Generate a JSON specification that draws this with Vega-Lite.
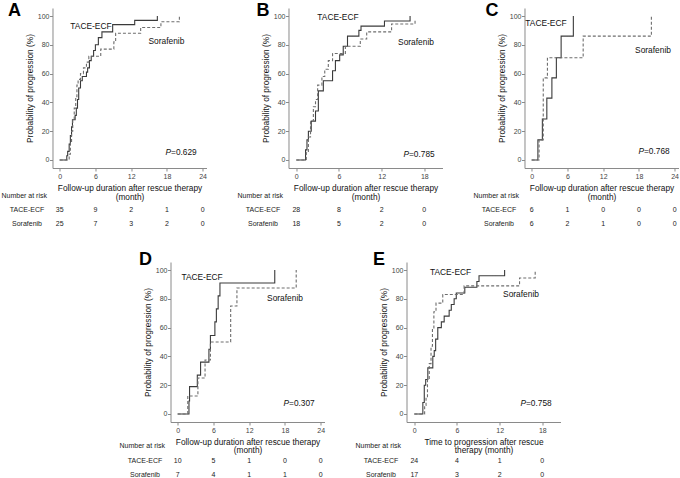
{
"$schema": "https://vega.github.io/schema/vega-lite/v6.json",
"padding": {"left": 1, "top": 2, "right": 0, "bottom": 0},
"datasets": {
"km": [
{"panel":"A","group":"TACE-ECF","t":0,"p":0},{"panel":"A","group":"TACE-ECF","t":1.2,"p":3},{"panel":"A","group":"TACE-ECF","t":1.35,"p":6},{"panel":"A","group":"TACE-ECF","t":1.6,"p":11},{"panel":"A","group":"TACE-ECF","t":1.8,"p":17},{"panel":"A","group":"TACE-ECF","t":2.0,"p":23},{"panel":"A","group":"TACE-ECF","t":2.15,"p":28},{"panel":"A","group":"TACE-ECF","t":2.6,"p":31},{"panel":"A","group":"TACE-ECF","t":2.8,"p":36},{"panel":"A","group":"TACE-ECF","t":3.0,"p":42},{"panel":"A","group":"TACE-ECF","t":3.2,"p":50},{"panel":"A","group":"TACE-ECF","t":3.5,"p":55},{"panel":"A","group":"TACE-ECF","t":3.8,"p":58},{"panel":"A","group":"TACE-ECF","t":4.5,"p":61},{"panel":"A","group":"TACE-ECF","t":4.7,"p":64},{"panel":"A","group":"TACE-ECF","t":5.0,"p":69},{"panel":"A","group":"TACE-ECF","t":5.3,"p":72},{"panel":"A","group":"TACE-ECF","t":5.7,"p":76},{"panel":"A","group":"TACE-ECF","t":6.0,"p":80},{"panel":"A","group":"TACE-ECF","t":6.5,"p":85},{"panel":"A","group":"TACE-ECF","t":7.1,"p":89},{"panel":"A","group":"TACE-ECF","t":8.9,"p":94},{"panel":"A","group":"TACE-ECF","t":12.6,"p":97},{"panel":"A","group":"TACE-ECF","t":16.4,"p":100},
{"panel":"A","group":"Sorafenib","t":0,"p":0},{"panel":"A","group":"Sorafenib","t":1.6,"p":4},{"panel":"A","group":"Sorafenib","t":1.8,"p":12},{"panel":"A","group":"Sorafenib","t":2.0,"p":20},{"panel":"A","group":"Sorafenib","t":2.2,"p":28},{"panel":"A","group":"Sorafenib","t":2.45,"p":36},{"panel":"A","group":"Sorafenib","t":2.7,"p":44},{"panel":"A","group":"Sorafenib","t":2.9,"p":52},{"panel":"A","group":"Sorafenib","t":3.1,"p":56},{"panel":"A","group":"Sorafenib","t":3.5,"p":60},{"panel":"A","group":"Sorafenib","t":4.0,"p":64},{"panel":"A","group":"Sorafenib","t":4.5,"p":68},{"panel":"A","group":"Sorafenib","t":4.9,"p":72},{"panel":"A","group":"Sorafenib","t":6.9,"p":77},{"panel":"A","group":"Sorafenib","t":9.1,"p":82},{"panel":"A","group":"Sorafenib","t":9.4,"p":88},{"panel":"A","group":"Sorafenib","t":13.6,"p":92},{"panel":"A","group":"Sorafenib","t":17.0,"p":96},{"panel":"A","group":"Sorafenib","t":20.1,"p":100},
{"panel":"B","group":"TACE-ECF","t":0,"p":0},{"panel":"B","group":"TACE-ECF","t":1.3,"p":7},{"panel":"B","group":"TACE-ECF","t":1.5,"p":14},{"panel":"B","group":"TACE-ECF","t":1.7,"p":20},{"panel":"B","group":"TACE-ECF","t":2.1,"p":27},{"panel":"B","group":"TACE-ECF","t":2.7,"p":34},{"panel":"B","group":"TACE-ECF","t":3.1,"p":48},{"panel":"B","group":"TACE-ECF","t":3.8,"p":55},{"panel":"B","group":"TACE-ECF","t":5.1,"p":62},{"panel":"B","group":"TACE-ECF","t":5.5,"p":69},{"panel":"B","group":"TACE-ECF","t":6.1,"p":73},{"panel":"B","group":"TACE-ECF","t":6.6,"p":79},{"panel":"B","group":"TACE-ECF","t":7.2,"p":86},{"panel":"B","group":"TACE-ECF","t":8.8,"p":90},{"panel":"B","group":"TACE-ECF","t":9.1,"p":93},{"panel":"B","group":"TACE-ECF","t":12.4,"p":96.5},{"panel":"B","group":"TACE-ECF","t":16.0,"p":100},
{"panel":"B","group":"Sorafenib","t":0,"p":0},{"panel":"B","group":"Sorafenib","t":1.4,"p":5},{"panel":"B","group":"Sorafenib","t":1.7,"p":16},{"panel":"B","group":"Sorafenib","t":2.0,"p":27},{"panel":"B","group":"Sorafenib","t":2.4,"p":37},{"panel":"B","group":"Sorafenib","t":2.7,"p":42},{"panel":"B","group":"Sorafenib","t":3.0,"p":52},{"panel":"B","group":"Sorafenib","t":3.6,"p":58},{"panel":"B","group":"Sorafenib","t":4.0,"p":63},{"panel":"B","group":"Sorafenib","t":4.5,"p":69},{"panel":"B","group":"Sorafenib","t":5.1,"p":74},{"panel":"B","group":"Sorafenib","t":6.9,"p":79},{"panel":"B","group":"Sorafenib","t":9.0,"p":84},{"panel":"B","group":"Sorafenib","t":9.9,"p":89},{"panel":"B","group":"Sorafenib","t":13.4,"p":94.5},{"panel":"B","group":"Sorafenib","t":16.7,"p":98},
{"panel":"C","group":"TACE-ECF","t":0,"p":0},{"panel":"C","group":"TACE-ECF","t":1.05,"p":14},{"panel":"C","group":"TACE-ECF","t":1.8,"p":28.5},{"panel":"C","group":"TACE-ECF","t":2.55,"p":43},{"panel":"C","group":"TACE-ECF","t":3.4,"p":57},{"panel":"C","group":"TACE-ECF","t":4.15,"p":71},{"panel":"C","group":"TACE-ECF","t":4.95,"p":86},{"panel":"C","group":"TACE-ECF","t":7.0,"p":100},
{"panel":"C","group":"Sorafenib","t":0,"p":0},{"panel":"C","group":"Sorafenib","t":1.25,"p":14},{"panel":"C","group":"Sorafenib","t":1.95,"p":57},{"panel":"C","group":"Sorafenib","t":2.65,"p":71},{"panel":"C","group":"Sorafenib","t":8.65,"p":86},{"panel":"C","group":"Sorafenib","t":20.1,"p":100},
{"panel":"D","group":"TACE-ECF","t":0,"p":0},{"panel":"D","group":"TACE-ECF","t":1.9,"p":9},{"panel":"D","group":"TACE-ECF","t":2.0,"p":19},{"panel":"D","group":"TACE-ECF","t":3.3,"p":27},{"panel":"D","group":"TACE-ECF","t":3.85,"p":36},{"panel":"D","group":"TACE-ECF","t":5.25,"p":45},{"panel":"D","group":"TACE-ECF","t":5.5,"p":54.5},{"panel":"D","group":"TACE-ECF","t":6.25,"p":64},{"panel":"D","group":"TACE-ECF","t":6.5,"p":73},{"panel":"D","group":"TACE-ECF","t":6.8,"p":82},{"panel":"D","group":"TACE-ECF","t":7.1,"p":91},{"panel":"D","group":"TACE-ECF","t":16.3,"p":100},
{"panel":"D","group":"Sorafenib","t":0,"p":0},{"panel":"D","group":"Sorafenib","t":1.7,"p":12.5},{"panel":"D","group":"Sorafenib","t":3.4,"p":25},{"panel":"D","group":"Sorafenib","t":4.6,"p":37.5},{"panel":"D","group":"Sorafenib","t":5.5,"p":50},{"panel":"D","group":"Sorafenib","t":8.9,"p":75},{"panel":"D","group":"Sorafenib","t":9.95,"p":87.5},{"panel":"D","group":"Sorafenib","t":19.9,"p":100},
{"panel":"E","group":"TACE-ECF","t":0,"p":0},{"panel":"E","group":"TACE-ECF","t":1.2,"p":8},{"panel":"E","group":"TACE-ECF","t":1.4,"p":20},{"panel":"E","group":"TACE-ECF","t":1.6,"p":24},{"panel":"E","group":"TACE-ECF","t":1.9,"p":32},{"panel":"E","group":"TACE-ECF","t":2.6,"p":40},{"panel":"E","group":"TACE-ECF","t":2.8,"p":44},{"panel":"E","group":"TACE-ECF","t":3.0,"p":52},{"panel":"E","group":"TACE-ECF","t":3.3,"p":60},{"panel":"E","group":"TACE-ECF","t":3.8,"p":64},{"panel":"E","group":"TACE-ECF","t":4.2,"p":68},{"panel":"E","group":"TACE-ECF","t":4.9,"p":72},{"panel":"E","group":"TACE-ECF","t":5.2,"p":76},{"panel":"E","group":"TACE-ECF","t":5.6,"p":80},{"panel":"E","group":"TACE-ECF","t":5.9,"p":84},{"panel":"E","group":"TACE-ECF","t":7.1,"p":88},{"panel":"E","group":"TACE-ECF","t":8.8,"p":92},{"panel":"E","group":"TACE-ECF","t":9.1,"p":96},{"panel":"E","group":"TACE-ECF","t":12.7,"p":100},
{"panel":"E","group":"Sorafenib","t":0,"p":0},{"panel":"E","group":"Sorafenib","t":1.45,"p":6},{"panel":"E","group":"Sorafenib","t":1.65,"p":12},{"panel":"E","group":"Sorafenib","t":1.85,"p":24},{"panel":"E","group":"Sorafenib","t":2.1,"p":35},{"panel":"E","group":"Sorafenib","t":2.35,"p":47},{"panel":"E","group":"Sorafenib","t":2.55,"p":59},{"panel":"E","group":"Sorafenib","t":2.75,"p":71},{"panel":"E","group":"Sorafenib","t":3.05,"p":77},{"panel":"E","group":"Sorafenib","t":4.0,"p":83},{"panel":"E","group":"Sorafenib","t":7.0,"p":89},{"panel":"E","group":"Sorafenib","t":14.8,"p":94.5},{"panel":"E","group":"Sorafenib","t":17.0,"p":100}
],
"risk": [
{"panel":"A","group":"TACE-ECF","t":0,"n":35},{"panel":"A","group":"TACE-ECF","t":6,"n":9},{"panel":"A","group":"TACE-ECF","t":12,"n":2},{"panel":"A","group":"TACE-ECF","t":18,"n":1},{"panel":"A","group":"TACE-ECF","t":24,"n":0},
{"panel":"A","group":"Sorafenib","t":0,"n":25},{"panel":"A","group":"Sorafenib","t":6,"n":7},{"panel":"A","group":"Sorafenib","t":12,"n":3},{"panel":"A","group":"Sorafenib","t":18,"n":2},{"panel":"A","group":"Sorafenib","t":24,"n":0},
{"panel":"B","group":"TACE-ECF","t":0,"n":28},{"panel":"B","group":"TACE-ECF","t":6,"n":8},{"panel":"B","group":"TACE-ECF","t":12,"n":2},{"panel":"B","group":"TACE-ECF","t":18,"n":0},
{"panel":"B","group":"Sorafenib","t":0,"n":18},{"panel":"B","group":"Sorafenib","t":6,"n":5},{"panel":"B","group":"Sorafenib","t":12,"n":2},{"panel":"B","group":"Sorafenib","t":18,"n":0},
{"panel":"C","group":"TACE-ECF","t":0,"n":6},{"panel":"C","group":"TACE-ECF","t":6,"n":1},{"panel":"C","group":"TACE-ECF","t":12,"n":0},{"panel":"C","group":"TACE-ECF","t":18,"n":0},{"panel":"C","group":"TACE-ECF","t":24,"n":0},
{"panel":"C","group":"Sorafenib","t":0,"n":6},{"panel":"C","group":"Sorafenib","t":6,"n":2},{"panel":"C","group":"Sorafenib","t":12,"n":1},{"panel":"C","group":"Sorafenib","t":18,"n":0},{"panel":"C","group":"Sorafenib","t":24,"n":0},
{"panel":"D","group":"TACE-ECF","t":0,"n":10},{"panel":"D","group":"TACE-ECF","t":6,"n":5},{"panel":"D","group":"TACE-ECF","t":12,"n":1},{"panel":"D","group":"TACE-ECF","t":18,"n":0},{"panel":"D","group":"TACE-ECF","t":24,"n":0},
{"panel":"D","group":"Sorafenib","t":0,"n":7},{"panel":"D","group":"Sorafenib","t":6,"n":4},{"panel":"D","group":"Sorafenib","t":12,"n":1},{"panel":"D","group":"Sorafenib","t":18,"n":1},{"panel":"D","group":"Sorafenib","t":24,"n":0},
{"panel":"E","group":"TACE-ECF","t":0,"n":24},{"panel":"E","group":"TACE-ECF","t":6,"n":4},{"panel":"E","group":"TACE-ECF","t":12,"n":1},{"panel":"E","group":"TACE-ECF","t":18,"n":0},
{"panel":"E","group":"Sorafenib","t":0,"n":17},{"panel":"E","group":"Sorafenib","t":6,"n":3},{"panel":"E","group":"Sorafenib","t":12,"n":2},{"panel":"E","group":"Sorafenib","t":18,"n":0}
]
},
"spacing": 23,
"center": true,
"vconcat": [
{"hconcat": [
{"width":154,"height":160,"layer":[
{"data":{"name":"km"},"transform":[{"filter":"datum.panel=='A'"}],"mark":{"type":"line","interpolate":"step-after","strokeWidth":1.1},
"encoding":{"x":{"field":"t","type":"quantitative","scale":{"domain":[-1.2,24.65],"nice":false,"zero":false},"axis":{"values":[0,6,12,18,24],"tickCount":8,"labelOverlap":false,"title":["Follow-up duration after rescue therapy","(month)"],"labelPadding":1,"titleY":22,"titleBaseline":"alphabetic","titleLineHeight":9.3}},
"y":{"field":"p","type":"quantitative","scale":{"domain":[-5.56,105.56],"nice":false,"zero":false},"axis":{"values":[0,20,40,60,80,100],"tickCount":8,"labelOverlap":false,"title":"Probability of progression (%)","labelPadding":0.5,"titleX":-22,"titleBaseline":"middle"}},
"color":{"field":"group","type":"nominal","scale":{"domain":["TACE-ECF","Sorafenib"],"range":["#3a3a3a","#6e6e6e"]},"legend":null},
"strokeDash":{"field":"group","type":"nominal","scale":{"domain":["TACE-ECF","Sorafenib"],"range":[[1,0],[3,2]]},"legend":null}}},
{"data":{"name":"risk"},"transform":[{"filter":"datum.panel=='A' && datum.group=='TACE-ECF'"}],"mark":{"type":"text"},"encoding":{"x":{"field":"t","type":"quantitative"},"y":{"datum":-34.7},"text":{"field":"n","type":"nominal"}}},
{"data":{"name":"risk"},"transform":[{"filter":"datum.panel=='A' && datum.group=='Sorafenib'"}],"mark":{"type":"text"},"encoding":{"x":{"field":"t","type":"quantitative"},"y":{"datum":-44.4},"text":{"field":"n","type":"nominal"}}},
{"data":{"values":[{}]},"mark":{"type":"text","align":"left","text":"Number at risk"},"encoding":{"x":{"datum":-9.76},"y":{"datum":-25}}},
{"data":{"values":[{}]},"mark":{"type":"text","text":"TACE-ECF"},"encoding":{"x":{"datum":-5.48},"y":{"datum":-34.7}}},
{"data":{"values":[{}]},"mark":{"type":"text","text":"Sorafenib"},"encoding":{"x":{"datum":-5.48},"y":{"datum":-44.4}}},
{"data":{"values":[{}]},"mark":{"type":"text","text":"TACE-ECF","fontSize":8.4,"color":"#111111"},"encoding":{"x":{"datum":5.26},"y":{"datum":93.3}}},
{"data":{"values":[{}]},"mark":{"type":"text","text":"Sorafenib","fontSize":8.4,"color":"#111111"},"encoding":{"x":{"datum":17.93},"y":{"datum":82.3}}},
{"data":{"values":[{}]},"mark":{"type":"text","text":"P","fontStyle":"italic","fontSize":8.3,"align":"left","color":"#111111"},"encoding":{"x":{"datum":17.77},"y":{"datum":4.8}}},
{"data":{"values":[{}]},"mark":{"type":"text","text":"=0.629","fontSize":8.3,"align":"left","color":"#111111"},"encoding":{"x":{"datum":18.7},"y":{"datum":4.8}}},
{"data":{"values":[{}]},"mark":{"type":"text","text":"A","fontSize":18,"fontWeight":"bold","baseline":"alphabetic","color":"#000000"},"encoding":{"x":{"datum":-7.58},"y":{"datum":100}}}
]},
{"width":154,"height":160,"layer":[
{"data":{"name":"km"},"transform":[{"filter":"datum.panel=='B'"}],"mark":{"type":"line","interpolate":"step-after","strokeWidth":1.1},
"encoding":{"x":{"field":"t","type":"quantitative","scale":{"domain":[-1.1,20.56],"nice":false,"zero":false},"axis":{"values":[0,6,12,18],"tickCount":8,"labelOverlap":false,"title":["Follow-up duration after rescue therapy","(month)"],"labelPadding":1,"titleY":22,"titleBaseline":"alphabetic","titleLineHeight":9.3}},
"y":{"field":"p","type":"quantitative","scale":{"domain":[-5.56,105.56],"nice":false,"zero":false},"axis":{"values":[0,20,40,60,80,100],"tickCount":8,"labelOverlap":false,"title":"Probability of progression (%)","labelPadding":0.5,"titleX":-22,"titleBaseline":"middle"}},
"color":{"field":"group","type":"nominal","scale":{"domain":["TACE-ECF","Sorafenib"],"range":["#3a3a3a","#6e6e6e"]},"legend":null},
"strokeDash":{"field":"group","type":"nominal","scale":{"domain":["TACE-ECF","Sorafenib"],"range":[[1,0],[3,2]]},"legend":null}}},
{"data":{"name":"risk"},"transform":[{"filter":"datum.panel=='B' && datum.group=='TACE-ECF'"}],"mark":{"type":"text"},"encoding":{"x":{"field":"t","type":"quantitative"},"y":{"datum":-34.7},"text":{"field":"n","type":"nominal"}}},
{"data":{"name":"risk"},"transform":[{"filter":"datum.panel=='B' && datum.group=='Sorafenib'"}],"mark":{"type":"text"},"encoding":{"x":{"field":"t","type":"quantitative"},"y":{"datum":-44.4},"text":{"field":"n","type":"nominal"}}},
{"data":{"values":[{}]},"mark":{"type":"text","align":"left","text":"Number at risk"},"encoding":{"x":{"datum":-8.27},"y":{"datum":-25}}},
{"data":{"values":[{}]},"mark":{"type":"text","text":"TACE-ECF"},"encoding":{"x":{"datum":-4.69},"y":{"datum":-34.7}}},
{"data":{"values":[{}]},"mark":{"type":"text","text":"Sorafenib"},"encoding":{"x":{"datum":-4.69},"y":{"datum":-44.4}}},
{"data":{"values":[{}]},"mark":{"type":"text","text":"TACE-ECF","fontSize":8.4,"color":"#111111"},"encoding":{"x":{"datum":5.86},"y":{"datum":99.5}}},
{"data":{"values":[{}]},"mark":{"type":"text","text":"Sorafenib","fontSize":8.4,"color":"#111111"},"encoding":{"x":{"datum":16.83},"y":{"datum":81.6}}},
{"data":{"values":[{}]},"mark":{"type":"text","text":"P","fontStyle":"italic","fontSize":8.3,"align":"left","color":"#111111"},"encoding":{"x":{"datum":15.07},"y":{"datum":3.5}}},
{"data":{"values":[{}]},"mark":{"type":"text","text":"=0.785","fontSize":8.3,"align":"left","color":"#111111"},"encoding":{"x":{"datum":15.85},"y":{"datum":3.5}}},
{"data":{"values":[{}]},"mark":{"type":"text","text":"B","fontSize":18,"fontWeight":"bold","baseline":"alphabetic","color":"#000000"},"encoding":{"x":{"datum":-4.69},"y":{"datum":100}}}
]},
{"width":154,"height":160,"layer":[
{"data":{"name":"km"},"transform":[{"filter":"datum.panel=='C'"}],"mark":{"type":"line","interpolate":"step-after","strokeWidth":1.1},
"encoding":{"x":{"field":"t","type":"quantitative","scale":{"domain":[-1.2,24.65],"nice":false,"zero":false},"axis":{"values":[0,6,12,18,24],"tickCount":8,"labelOverlap":false,"title":["Follow-up duration after rescue therapy","(month)"],"labelPadding":1,"titleY":22,"titleBaseline":"alphabetic","titleLineHeight":9.3}},
"y":{"field":"p","type":"quantitative","scale":{"domain":[-5.56,105.56],"nice":false,"zero":false},"axis":{"values":[0,20,40,60,80,100],"tickCount":8,"labelOverlap":false,"title":"Probability of progression (%)","labelPadding":0.5,"titleX":-22,"titleBaseline":"middle"}},
"color":{"field":"group","type":"nominal","scale":{"domain":["TACE-ECF","Sorafenib"],"range":["#3a3a3a","#6e6e6e"]},"legend":null},
"strokeDash":{"field":"group","type":"nominal","scale":{"domain":["TACE-ECF","Sorafenib"],"range":[[1,0],[3,2]]},"legend":null}}},
{"data":{"name":"risk"},"transform":[{"filter":"datum.panel=='C' && datum.group=='TACE-ECF'"}],"mark":{"type":"text"},"encoding":{"x":{"field":"t","type":"quantitative"},"y":{"datum":-34.7},"text":{"field":"n","type":"nominal"}}},
{"data":{"name":"risk"},"transform":[{"filter":"datum.panel=='C' && datum.group=='Sorafenib'"}],"mark":{"type":"text"},"encoding":{"x":{"field":"t","type":"quantitative"},"y":{"datum":-44.4},"text":{"field":"n","type":"nominal"}}},
{"data":{"values":[{}]},"mark":{"type":"text","align":"left","text":"Number at risk"},"encoding":{"x":{"datum":-9.76},"y":{"datum":-25}}},
{"data":{"values":[{}]},"mark":{"type":"text","text":"TACE-ECF"},"encoding":{"x":{"datum":-5.48},"y":{"datum":-34.7}}},
{"data":{"values":[{}]},"mark":{"type":"text","text":"Sorafenib"},"encoding":{"x":{"datum":-5.48},"y":{"datum":-44.4}}},
{"data":{"values":[{}]},"mark":{"type":"text","text":"TACE-ECF","fontSize":8.4,"color":"#111111"},"encoding":{"x":{"datum":2.41},"y":{"datum":95.4}}},
{"data":{"values":[{}]},"mark":{"type":"text","text":"Sorafenib","fontSize":8.4,"color":"#111111"},"encoding":{"x":{"datum":20.37},"y":{"datum":76.4}}},
{"data":{"values":[{}]},"mark":{"type":"text","text":"P","fontStyle":"italic","fontSize":8.3,"align":"left","color":"#111111"},"encoding":{"x":{"datum":17.93},"y":{"datum":5.6}}},
{"data":{"values":[{}]},"mark":{"type":"text","text":"=0.768","fontSize":8.3,"align":"left","color":"#111111"},"encoding":{"x":{"datum":18.86},"y":{"datum":5.6}}},
{"data":{"values":[{}]},"mark":{"type":"text","text":"C","fontSize":18,"fontWeight":"bold","baseline":"alphabetic","color":"#000000"},"encoding":{"x":{"datum":-6.65},"y":{"datum":100}}}
]}
], "spacing": 82, "bounds": "flush"},
{"hconcat": [
{"width":154,"height":160,"layer":[
{"data":{"name":"km"},"transform":[{"filter":"datum.panel=='D'"}],"mark":{"type":"line","interpolate":"step-after","strokeWidth":1.1},
"encoding":{"x":{"field":"t","type":"quantitative","scale":{"domain":[-1.2,24.65],"nice":false,"zero":false},"axis":{"values":[0,6,12,18,24],"tickCount":8,"labelOverlap":false,"title":["Follow-up duration after rescue therapy","(month)"],"labelPadding":1,"titleY":22,"titleBaseline":"alphabetic","titleLineHeight":8.5}},
"y":{"field":"p","type":"quantitative","scale":{"domain":[-5.56,105.56],"nice":false,"zero":false},"axis":{"values":[0,20,40,60,80,100],"tickCount":8,"labelOverlap":false,"title":"Probability of progression (%)","labelPadding":0.5,"titleX":-22,"titleBaseline":"middle"}},
"color":{"field":"group","type":"nominal","scale":{"domain":["TACE-ECF","Sorafenib"],"range":["#3a3a3a","#6e6e6e"]},"legend":null},
"strokeDash":{"field":"group","type":"nominal","scale":{"domain":["TACE-ECF","Sorafenib"],"range":[[1,0],[3,2]]},"legend":null}}},
{"data":{"name":"risk"},"transform":[{"filter":"datum.panel=='D' && datum.group=='TACE-ECF'"}],"mark":{"type":"text"},"encoding":{"x":{"field":"t","type":"quantitative"},"y":{"datum":-32.6},"text":{"field":"n","type":"nominal"}}},
{"data":{"name":"risk"},"transform":[{"filter":"datum.panel=='D' && datum.group=='Sorafenib'"}],"mark":{"type":"text"},"encoding":{"x":{"field":"t","type":"quantitative"},"y":{"datum":-42.4},"text":{"field":"n","type":"nominal"}}},
{"data":{"values":[{}]},"mark":{"type":"text","align":"left","text":"Number at risk"},"encoding":{"x":{"datum":-9.76},"y":{"datum":-22.5}}},
{"data":{"values":[{}]},"mark":{"type":"text","text":"TACE-ECF"},"encoding":{"x":{"datum":-5.48},"y":{"datum":-32.6}}},
{"data":{"values":[{}]},"mark":{"type":"text","text":"Sorafenib"},"encoding":{"x":{"datum":-5.48},"y":{"datum":-42.4}}},
{"data":{"values":[{}]},"mark":{"type":"text","text":"TACE-ECF","fontSize":8.4,"color":"#111111"},"encoding":{"x":{"datum":4.09},"y":{"datum":95.1}}},
{"data":{"values":[{}]},"mark":{"type":"text","text":"Sorafenib","fontSize":8.4,"color":"#111111"},"encoding":{"x":{"datum":18.02},"y":{"datum":80.9}}},
{"data":{"values":[{}]},"mark":{"type":"text","text":"P","fontStyle":"italic","fontSize":8.3,"align":"left","color":"#111111"},"encoding":{"x":{"datum":17.77},"y":{"datum":6.9}}},
{"data":{"values":[{}]},"mark":{"type":"text","text":"=0.307","fontSize":8.3,"align":"left","color":"#111111"},"encoding":{"x":{"datum":18.7},"y":{"datum":6.9}}},
{"data":{"values":[{}]},"mark":{"type":"text","text":"D","fontSize":18,"fontWeight":"bold","baseline":"alphabetic","color":"#000000"},"encoding":{"x":{"datum":-5.4},"y":{"datum":103.5}}}
]},
{"width":154,"height":160,"layer":[
{"data":{"name":"km"},"transform":[{"filter":"datum.panel=='E'"}],"mark":{"type":"line","interpolate":"step-after","strokeWidth":1.1},
"encoding":{"x":{"field":"t","type":"quantitative","scale":{"domain":[-1.1,20.56],"nice":false,"zero":false},"axis":{"values":[0,6,12,18],"tickCount":8,"labelOverlap":false,"title":["Time to progression after rescue","therapy (month)"],"labelPadding":1,"titleY":22,"titleBaseline":"alphabetic","titleLineHeight":8.5}},
"y":{"field":"p","type":"quantitative","scale":{"domain":[-5.56,105.56],"nice":false,"zero":false},"axis":{"values":[0,20,40,60,80,100],"tickCount":8,"labelOverlap":false,"title":"Probability of progression (%)","labelPadding":0.5,"titleX":-22,"titleBaseline":"middle"}},
"color":{"field":"group","type":"nominal","scale":{"domain":["TACE-ECF","Sorafenib"],"range":["#3a3a3a","#6e6e6e"]},"legend":null},
"strokeDash":{"field":"group","type":"nominal","scale":{"domain":["TACE-ECF","Sorafenib"],"range":[[1,0],[3,2]]},"legend":null}}},
{"data":{"name":"risk"},"transform":[{"filter":"datum.panel=='E' && datum.group=='TACE-ECF'"}],"mark":{"type":"text"},"encoding":{"x":{"field":"t","type":"quantitative"},"y":{"datum":-32.6},"text":{"field":"n","type":"nominal"}}},
{"data":{"name":"risk"},"transform":[{"filter":"datum.panel=='E' && datum.group=='Sorafenib'"}],"mark":{"type":"text"},"encoding":{"x":{"field":"t","type":"quantitative"},"y":{"datum":-42.4},"text":{"field":"n","type":"nominal"}}},
{"data":{"values":[{}]},"mark":{"type":"text","align":"left","text":"Number at risk"},"encoding":{"x":{"datum":-8.27},"y":{"datum":-22.5}}},
{"data":{"values":[{}]},"mark":{"type":"text","text":"TACE-ECF"},"encoding":{"x":{"datum":-4.69},"y":{"datum":-32.6}}},
{"data":{"values":[{}]},"mark":{"type":"text","text":"Sorafenib"},"encoding":{"x":{"datum":-4.69},"y":{"datum":-42.4}}},
{"data":{"values":[{}]},"mark":{"type":"text","text":"TACE-ECF","fontSize":8.4,"color":"#111111"},"encoding":{"x":{"datum":5.09},"y":{"datum":98.3}}},
{"data":{"values":[{}]},"mark":{"type":"text","text":"Sorafenib","fontSize":8.4,"color":"#111111"},"encoding":{"x":{"datum":15.0},"y":{"datum":83.0}}},
{"data":{"values":[{}]},"mark":{"type":"text","text":"P","fontStyle":"italic","fontSize":8.3,"align":"left","color":"#111111"},"encoding":{"x":{"datum":14.93},"y":{"datum":6.9}}},
{"data":{"values":[{}]},"mark":{"type":"text","text":"=0.758","fontSize":8.3,"align":"left","color":"#111111"},"encoding":{"x":{"datum":15.71},"y":{"datum":6.9}}},
{"data":{"values":[{}]},"mark":{"type":"text","text":"E","fontSize":18,"fontWeight":"bold","baseline":"alphabetic","color":"#000000"},"encoding":{"x":{"datum":-4.97},"y":{"datum":103.5}}}
]}
], "spacing": 82, "bounds": "flush"}
],
"config": {
"font": "Liberation Sans",
"view": {"stroke": null},
"axis": {"grid": false, "domainColor": "#8a8a8a", "tickColor": "#8a8a8a", "tickSize": 3, "labelFontSize": 7, "labelColor": "#444444", "labelFont": "Liberation Sans", "titleFont": "Liberation Sans", "titleFontSize": 8.3, "titleFontWeight": "normal", "titleColor": "#111111", "labelOverlap": false, "labelFlush": false, "labelBound": false},
"text": {"font": "Liberation Sans", "fontSize": 7, "color": "#222222", "baseline": "middle", "align": "center"}
}
}
